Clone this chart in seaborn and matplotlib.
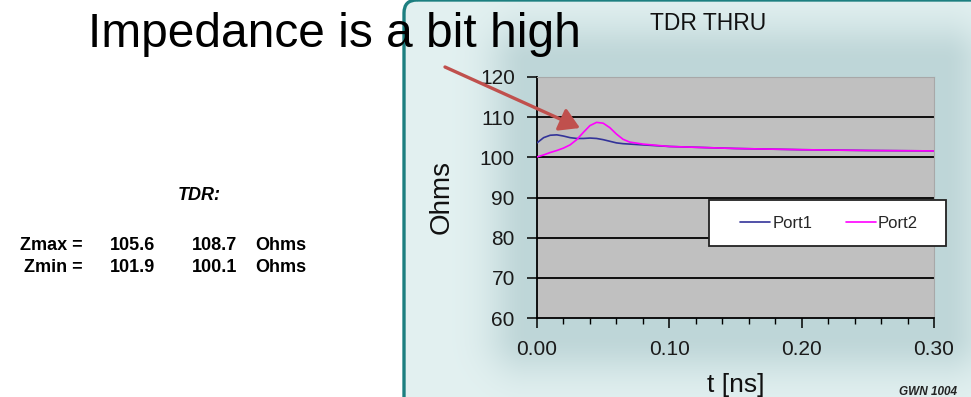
import numpy as np
import pandas as pd
import matplotlib
matplotlib.use("Agg")
import matplotlib.pyplot as plt
import seaborn as sns
from matplotlib.patches import FancyBboxPatch, FancyArrowPatch, Rectangle
from matplotlib.lines import Line2D
from matplotlib.ticker import MultipleLocator

# TDR trace
t_ns = [0.0, 0.005, 0.01, 0.015, 0.02, 0.025, 0.03, 0.035, 0.04, 0.045, 0.05,
        0.055, 0.06, 0.065, 0.07, 0.08, 0.09, 0.10, 0.12, 0.15, 0.20, 0.25, 0.30]
port1 = [103.6, 104.9, 105.5, 105.6, 105.3, 104.9, 104.7, 104.7, 104.8, 104.7, 104.4,
         104.0, 103.6, 103.4, 103.3, 103.1, 102.9, 102.7, 102.5, 102.2, 101.9, 101.7, 101.6]
port2 = [100.1, 100.6, 101.2, 101.7, 102.3, 103.1, 104.4, 106.2, 107.9, 108.7, 108.5,
         107.4, 105.8, 104.5, 103.8, 103.3, 103.0, 102.7, 102.5, 102.2, 101.9, 101.7, 101.6]
ports = ["Port1", "Port2"]
zmax = ["105.6", "108.7"]
zmin = ["101.9", "100.1"]
y_ticks = [60, 70, 80, 90, 100, 110, 120]
x_ticks = [0.0, 0.1, 0.2, 0.3]
x_labels = ["0.00", "0.10", "0.20", "0.30"]

df = pd.DataFrame({"t": t_ns * 2, "Ohms": port1 + port2,
                   "port": [ports[0]] * len(t_ns) + [ports[1]] * len(t_ns)})
palette = {"Port1": "#333399", "Port2": "#ff00ff"}

sns.set_theme(style="white")
plt.rcParams['font.family'] = ['Liberation Sans', 'DejaVu Sans']

W, H = 971, 397
fig = plt.figure(figsize=(9.71, 3.97), dpi=100)
fig.patch.set_facecolor("white")

# background layer in pixel coords
bg = fig.add_axes([0, 0, 1, 1], zorder=0)
bg.set_xlim(0, W)
bg.set_ylim(H, 0)
bg.axis("off")

# plot area in pixels
px0, px1, py0, py1 = 537, 934, 77, 318

# panel with soft shadow around the chart
xx, yy = np.meshgrid(np.arange(W) + 0.5, np.arange(H) + 0.5)
dx = np.maximum(np.maximum(528 - xx, xx - 944), 0)
dy = np.maximum(np.maximum(62 - yy, yy - 335), 0)
d = np.hypot(dx, dy)
w = 0.75 * np.exp(-(d / 40.0) ** 2)
base = np.array([0.89, 0.945, 0.945])
shade = np.array([0.70, 0.805, 0.815])
img = base[None, None, :] * (1 - w[..., None]) + shade[None, None, :] * w[..., None]
panel = FancyBboxPatch((404, 0), 700, 500, boxstyle="round,pad=0,rounding_size=13",
                       facecolor="none", edgecolor="#1c7f80", linewidth=2.4, zorder=3)
bg.add_patch(panel)
im = bg.imshow(img, extent=(0, W, H, 0), zorder=1, aspect="auto")
im.set_clip_path(panel)

# left-side text block
tb = dict(fontsize=13, fontweight="bold", color="black", va="center")
bg.text(199, 196, "TDR:", ha="center", style="italic", **tb)
bg.text(83, 245, "Zmax =", ha="right", **tb)
bg.text(83, 268, "Zmin =", ha="right", **tb)
bg.text(155, 245, zmax[0], ha="right", **tb)
bg.text(237, 245, zmax[1], ha="right", **tb)
bg.text(155, 268, zmin[0], ha="right", **tb)
bg.text(237, 268, zmin[1], ha="right", **tb)
bg.text(255, 245, "Ohms", ha="left", **tb)
bg.text(255, 268, "Ohms", ha="left", **tb)

bg.text(708, 23, "TDR THRU", ha="center", va="center", fontsize=16.5, color="#111111")
bg.text(928, 392, "GWN 1004", ha="center", va="center", fontsize=8.5,
        style="italic", fontweight="bold", color="#222222")

# chart
ax = fig.add_axes([px0 / W, 1 - py1 / H, (px1 - px0) / W, (py1 - py0) / H], zorder=1)
ax.set_facecolor("#c0c0c0")
for y in y_ticks[1:-1]:
    ax.axhline(y, color="black", linewidth=1.3, zorder=1)
sns.lineplot(data=df, x="t", y="Ohms", hue="port", palette=palette,
             linewidth=1.2, legend=False, ax=ax, zorder=3)
ax.set_xlim(0, 0.30)
ax.set_ylim(60, 120)
ax.set_yticks(y_ticks)
ax.set_xticks(x_ticks)
ax.set_xticklabels(x_labels)
ax.xaxis.set_minor_locator(MultipleLocator(0.02))
ax.tick_params(axis="y", which="major", direction="out", length=7, width=1.1,
               color="black", left=True, labelsize=15, pad=9, labelcolor="#1a1a1a")
ax.tick_params(axis="x", which="major", direction="out", length=7, width=1.1,
               color="black", bottom=True, labelsize=15, pad=9, labelcolor="#1a1a1a")
ax.tick_params(axis="x", which="minor", direction="out", length=4, width=1.0,
               color="black", bottom=True)
for s in ["left", "bottom"]:
    ax.spines[s].set_color("black")
    ax.spines[s].set_linewidth(1.3)
for s in ["top", "right"]:
    ax.spines[s].set_color("#a8a8a8")
    ax.spines[s].set_linewidth(0.8)
ax.set_xlabel("t [ns]", fontsize=19, labelpad=10, color="#111111")
ax.set_ylabel("Ohms", fontsize=20, labelpad=18, color="#111111")

# legend box
box = Rectangle((709 / W, 1 - 246 / H), (946 - 709) / W, 46 / H, transform=fig.transFigure,
                facecolor="white", edgecolor="#222222", linewidth=1.3, zorder=4, clip_on=False)
ax.add_patch(box)
handles = [Line2D([], [], color=palette[p], linewidth=1.2) for p in ports]
leg = ax.legend(handles, ports, ncol=2, frameon=False, fontsize=12, handlelength=1.8,
                handletextpad=0.15, columnspacing=2.0, loc="center",
                bbox_to_anchor=(829 / W, 1 - 223 / H), bbox_transform=fig.transFigure)
leg.set_zorder(5)

# foreground overlay: headline and arrow
fg = fig.add_axes([0, 0, 1, 1], zorder=2)
fg.set_xlim(0, W)
fg.set_ylim(H, 0)
fg.axis("off")
fg.patch.set_alpha(0)
fg.text(88, 47, "Impedance is a bit high", ha="left", va="baseline", fontsize=34.5, color="black")
arrow = FancyArrowPatch((445, 67), (580, 128),
                        arrowstyle="-|>,head_length=1.0,head_width=0.6", mutation_scale=12,
                        color="#c0504d", linewidth=2.4, shrinkA=0, shrinkB=0)
fg.add_patch(arrow)

fig.savefig("out.png", dpi=100)
